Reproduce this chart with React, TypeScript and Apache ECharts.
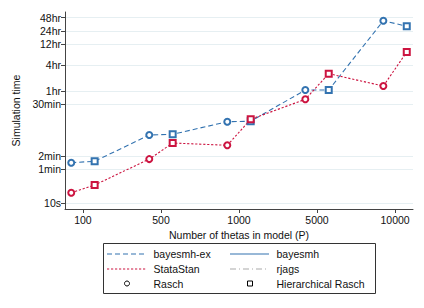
import React, { useEffect, useRef } from "react";
import * as echarts from "echarts";

// Categories (x positions are category slots)
const xLabels = ["100", "500", "1000", "5000", "10000"];
// Simulation times in seconds
const raschBayesEx = [83.5, 359, 723, 3840, 147600];
const hierBayesEx = [90, 372, 740, 3840, 110000];
const raschStan = [17.2, 101, 209, 2350, 4735];
const hierStan = [25.8, 235, 820, 9060, 28400];
// Y ticks
const yTickSecs = [10, 60, 120, 1800, 3600, 14400, 43200, 86400, 172800];
const yTickLabels = ["10s", "1min", "2min", "30min", "1hr", "4hr", "12hr", "24hr", "48hr"];

const BLUE = "#3373b0";
const RED = "#cc1440";
const FONT = '"Liberation Sans", Arial, sans-serif';
const FS = 10.5;

function interleave(a: number[], b: number[]) {
  const out: any[] = [];
  a.forEach((v, i) => {
    out.push({ value: [i + 1 - 0.15, Math.log10(v)], symbol: "emptyCircle" });
    out.push({ value: [i + 1 + 0.15, Math.log10(b[i])], symbol: "emptyRect" });
  });
  return out;
}

export default function App() {
  const ref = useRef<HTMLDivElement>(null);
  useEffect(() => {
    if (!ref.current) return;
    const chart = echarts.init(ref.current, null, { renderer: "svg" });
    const yTickVals = yTickSecs.map((s) => Math.log10(s));
    const textStyle = { fontFamily: FONT, fontSize: FS, color: "#111" };
    const legendText = (x: number, y: number, t: string) => ({
      type: "text",
      x,
      y,
      style: { text: t, fill: "#111", font: `${FS}px ${FONT}`, verticalAlign: "middle", align: "left" },
    });
    chart.setOption({
      animation: false,
      backgroundColor: "#fff",
      grid: { left: 65, right: 11, top: 12, bottom: 99 },
      xAxis: {
        type: "value",
        min: 0.77,
        max: 5.23,
        name: "Number of thetas in model (P)",
        nameLocation: "middle",
        nameGap: 17,
        nameTextStyle: textStyle,
        axisLine: { show: true, lineStyle: { color: "#444", width: 1 } },
        axisTick: { show: true, length: 4, customValues: [1, 2, 3, 4, 5], lineStyle: { color: "#444" } },
        axisLabel: {
          customValues: [1, 2, 3, 4, 5],
          formatter: (v: number) => xLabels[Math.round(v) - 1] ?? "",
          ...textStyle,
          margin: 5,
        },
        splitLine: { show: false },
      },
      yAxis: {
        type: "value",
        min: 0.863,
        max: 5.368,
        name: "Simulation time",
        nameLocation: "middle",
        nameGap: 40,
        nameTextStyle: textStyle,
        axisLine: { show: true, lineStyle: { color: "#444", width: 1 } },
        axisTick: { show: true, length: 4, customValues: yTickVals, lineStyle: { color: "#444" } },
        axisLabel: {
          customValues: yTickVals,
          formatter: (v: number) => {
            const i = yTickVals.findIndex((t) => Math.abs(t - v) < 1e-6);
            return i >= 0 ? yTickLabels[i] : "";
          },
          ...textStyle,
          margin: 4,
        },
        splitLine: { show: true, lineStyle: { color: "#e6eff2", width: 1 } },
      },
      series: [
        {
          name: "bayesmh-ex",
          type: "line",
          data: interleave(raschBayesEx, hierBayesEx),
          symbolSize: 6,
          lineStyle: { color: BLUE, width: 1.1, type: [5, 3] },
          itemStyle: { color: BLUE, borderWidth: 1 },
        },
        {
          name: "StataStan",
          type: "line",
          data: interleave(raschStan, hierStan),
          symbolSize: 6,
          lineStyle: { color: RED, width: 1.1, type: [2.2, 1.8] },
          itemStyle: { color: RED, borderWidth: 1 },
        },
      ],
      graphic: [
        { type: "rect", shape: { x: 103.5, y: 243.5, width: 272, height: 50 }, style: { fill: "none", stroke: "#333", lineWidth: 1 } },
        { type: "line", shape: { x1: 107, y1: 254, x2: 147, y2: 254 }, style: { stroke: BLUE, lineWidth: 1.1, lineDash: [5, 3] } },
        legendText(153.5, 254, "bayesmh-ex"),
        { type: "line", shape: { x1: 230, y1: 254, x2: 269, y2: 254 }, style: { stroke: BLUE, lineWidth: 1.1 } },
        legendText(276.5, 254, "bayesmh"),
        { type: "line", shape: { x1: 107, y1: 269, x2: 147, y2: 269 }, style: { stroke: RED, lineWidth: 1.1, lineDash: [2.2, 1.8] } },
        legendText(153.5, 269, "StataStan"),
        { type: "line", shape: { x1: 230, y1: 269, x2: 269, y2: 269 }, style: { stroke: "#aaa", lineWidth: 1.1, lineDash: [6, 3, 1, 3] } },
        legendText(276.5, 269, "rjags"),
        { type: "circle", shape: { cx: 127, cy: 283.5, r: 2.5 }, style: { fill: "#fff", stroke: "#000", lineWidth: 1 } },
        legendText(153.5, 283.5, "Rasch"),
        { type: "rect", shape: { x: 247.5, y: 281, width: 5, height: 5 }, style: { fill: "#fff", stroke: "#000", lineWidth: 1 } },
        legendText(276.5, 283.5, "Hierarchical Rasch"),
      ],
    });
    return () => chart.dispose();
  }, []);
  return <div ref={ref} style={{ position: "fixed", left: 0, top: 0, width: 424, height: 308 }} />;
}
